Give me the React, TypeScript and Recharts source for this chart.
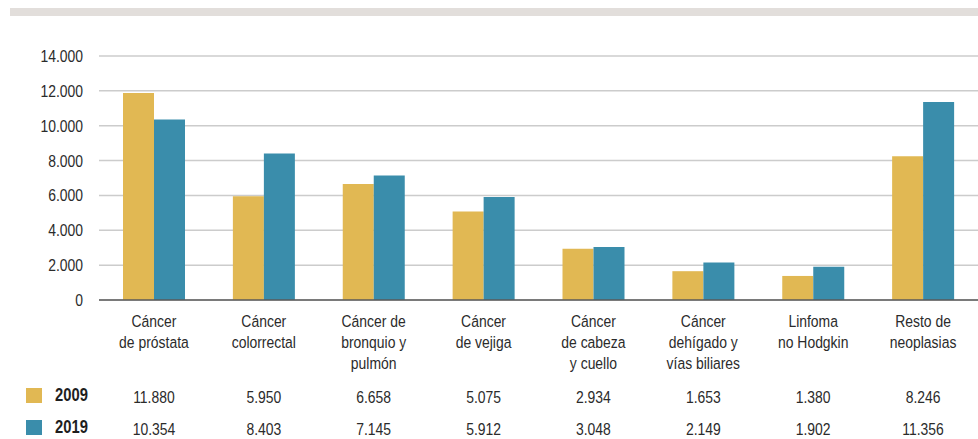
import React from "react";
import { BarChart, Bar, XAxis, YAxis, CartesianGrid } from "recharts";

const categories = [
  "Cáncer\nde próstata",
  "Cáncer\ncolorrectal",
  "Cáncer de\nbronquio y\npulmón",
  "Cáncer\nde vejiga",
  "Cáncer\nde cabeza\ny cuello",
  "Cáncer\ndehígado y\nvías biliares",
  "Linfoma\nno Hodgkin",
  "Resto de\nneoplasias",
];
const series2009 = [11880, 5950, 6658, 5075, 2934, 1653, 1380, 8246];
const series2019 = [10354, 8403, 7145, 5912, 3048, 2149, 1902, 11356];
const seriesNames = ["2009", "2019"];
const yTicks = [0, 2000, 4000, 6000, 8000, 10000, 12000, 14000];

const COLORS = ["#E1B853", "#3A8DAB"];
const FONT = "'Liberation Sans', Arial, sans-serif";
const TEXT = "#2b2b2b";
const SX = 0.82;

const data = categories.map((c, i) => ({
  name: c,
  v2009: series2009[i],
  v2019: series2019[i],
}));

const fmt = (v: number) => String(v).replace(/\B(?=(\d{3})+(?!\d))/g, ".");

const NarrowText = ({ x, y, anchor, children }: any) => (
  <text
    transform={`translate(${x},${y}) scale(${SX},1)`}
    x={0}
    y={0}
    textAnchor={anchor}
    fontFamily={FONT}
    fontSize={17}
    fill={TEXT}
  >
    {children}
  </text>
);

const CategoryTick = (props: any) => {
  const { x, y, payload, index } = props;
  const lines = String(payload.value).split("\n");
  const i = typeof index === "number" ? index : categories.indexOf(payload.value);
  return (
    <g>
      {lines.map((l: string, k: number) => (
        <NarrowText key={k} x={x} y={y + 27 + k * 21} anchor="middle">
          {l}
        </NarrowText>
      ))}
      <NarrowText x={x} y={y + 103} anchor="middle">
        {fmt(series2009[i])}
      </NarrowText>
      <NarrowText x={x} y={y + 135} anchor="middle">
        {fmt(series2019[i])}
      </NarrowText>
    </g>
  );
};

const ValueTick = (props: any) => {
  const { x, y, payload } = props;
  return (
    <NarrowText x={x} y={y + 6} anchor="end">
      {fmt(payload.value)}
    </NarrowText>
  );
};

export default function App() {
  return (
    <div style={{ position: "absolute", left: 0, top: 0, width: 978, height: 439, background: "#fff" }}>
      <div
        style={{
          position: "absolute",
          left: 10,
          top: 8,
          width: 968,
          height: 8,
          background: "#e2dedb",
        }}
      />
      <BarChart
        width={978}
        height={439}
        data={data}
        margin={{ top: 56, right: 0, bottom: 0, left: 0 }}
        barGap={0}
        barSize={31}
      >
        <CartesianGrid vertical={false} stroke="#cccccc" strokeWidth={1.5} />
        <YAxis
          width={99}
          domain={[0, 14000]}
          ticks={yTicks}
          axisLine={false}
          tickLine={false}
          tickSize={0}
          tickMargin={16}
          interval={0}
          tick={<ValueTick />}
        />
        <XAxis
          dataKey="name"
          height={139}
          interval={0}
          tickLine={false}
          tickSize={0}
          tickMargin={0}
          axisLine={{ stroke: "#5a5a5a", strokeWidth: 1.5 }}
          tick={<CategoryTick />}
        />
        <Bar dataKey="v2009" name={seriesNames[0]} fill={COLORS[0]} isAnimationActive={false} />
        <Bar dataKey="v2019" name={seriesNames[1]} fill={COLORS[1]} isAnimationActive={false} />
      </BarChart>
      {seriesNames.map((n, k) => (
        <div key={n}>
          <div
            style={{
              position: "absolute",
              left: 26,
              top: k === 0 ? 388 : 420,
              width: 16,
              height: 15,
              background: COLORS[k],
            }}
          />
          <div
            style={{
              position: "absolute",
              left: 55,
              top: k === 0 ? 384 : 416,
              fontFamily: FONT,
              fontWeight: "bold",
              fontSize: 18,
              lineHeight: "22px",
              color: "#1e1e1e",
              transform: `scaleX(${SX})`,
              transformOrigin: "left center",
              whiteSpace: "nowrap",
            }}
          >
            {n}
          </div>
        </div>
      ))}
    </div>
  );
}
